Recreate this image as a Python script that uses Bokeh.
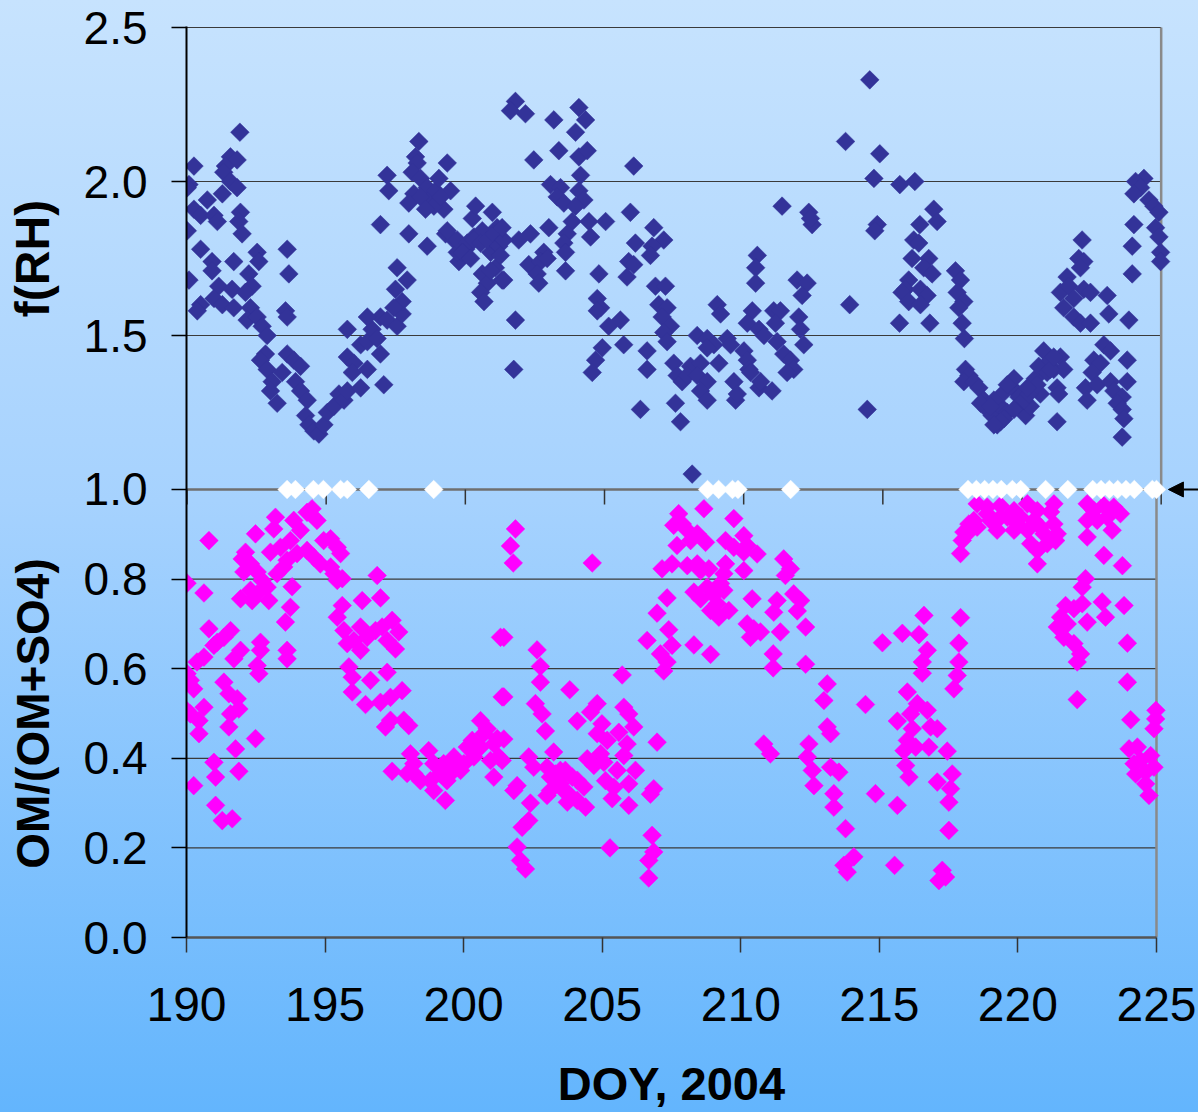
import math
from bokeh.plotting import figure
from bokeh.layouts import row, column
from bokeh.models import Range1d, FixedTicker, Label, Arrow, NormalHead
from bokeh.embed import file_html
from bokeh.resources import INLINE

# ---------------- data ----------------
FRH_DOY = [
    190.25, 190.07, 190.01, 191.90, 191.56, 191.80, 191.38, 191.32, 191.56, 191.80,
    191.27, 190.73, 190.25, 190.49, 190.97, 191.09, 190.01, 191.92, 191.86, 191.98,
    190.49, 190.90, 190.07, 190.90, 191.14, 191.68, 192.22, 192.52, 192.58, 192.34,
    191.62, 190.49, 190.37, 190.97, 191.27, 191.68, 192.10, 192.28, 192.16, 192.52,
    192.70, 192.88, 193.60, 193.66, 193.54, 193.60, 192.82, 192.64, 192.88, 193.06,
    193.00, 193.24, 193.60, 193.84, 194.08, 193.42, 193.90, 194.08, 194.32, 194.26,
    194.38, 194.56, 194.74, 194.92, 195.04, 195.28, 195.46, 195.64, 195.76, 195.76,
    195.76, 196.00, 195.94, 196.24, 196.48, 196.24, 196.48, 196.65, 196.95, 196.83,
    196.95, 196.48, 197.07, 197.19, 197.55, 197.73, 197.73, 197.49, 197.55, 197.91,
    197.43, 197.19, 197.25, 196.95, 197.97, 198.63, 198.33, 198.21, 198.27, 198.09,
    198.39, 198.15, 197.97, 198.63, 198.69, 198.93, 199.05, 199.23, 199.47, 199.35,
    199.29, 199.59, 199.77, 199.71, 200.01, 200.31, 200.25, 200.37, 200.61, 200.97,
    201.14, 201.26, 200.91, 201.08, 200.61, 200.79, 200.55, 200.67, 201.32, 199.35,
    199.71, 200.07, 200.31, 200.55, 199.89, 200.19, 200.79, 201.02, 201.20, 200.91,
    201.26, 198.39, 198.87, 199.11, 198.57,
    201.80, 201.62, 202.16, 203.18, 204.08, 204.32, 203.96, 203.36, 204.08, 204.38,
    202.46, 206.05, 204.14, 203.06, 203.42, 203.30, 203.54, 204.08, 204.26, 203.96,
    205.93, 203.84, 204.44, 205.04, 203.00, 202.34, 201.92, 201.38, 201.32, 203.66,
    204.50, 203.54, 203.60, 202.82, 202.28, 202.70, 202.94, 202.58, 202.64, 201.38,
    203.60, 204.80, 201.80, 201.74, 206.77, 207.13, 206.71, 206.65, 206.11, 205.87,
    206.05, 205.81, 206.83, 207.19, 204.74, 204.86, 204.74, 205.15, 205.57, 205.69,
    204.92, 204.68, 204.56, 206.53, 206.53, 206.29, 206.95, 207.25, 207.07, 207.37,
    207.13, 207.25, 207.49, 207.61, 207.79, 207.55, 207.73, 208.15, 208.33, 208.69,
    208.93, 209.05, 209.17, 209.41, 209.53, 208.69, 208.09, 207.97, 208.45, 208.33,
    208.69, 208.45, 208.69, 209.11, 209.65, 209.71, 209.77, 210.01, 210.13, 210.19,
    210.25, 210.55, 210.61, 211.02, 210.31, 210.13, 210.55, 210.73, 211.08, 211.32,
    211.14, 211.20, 211.44, 211.68, 211.80, 211.56, 211.98, 212.04, 212.16, 210.49,
    210.43, 210.43, 211.92, 212.28, 212.10, 211.38, 212.34, 212.46, 212.40,
    214.53, 213.66, 214.89, 214.68, 215.61, 216.15, 214.80, 214.71, 216.83, 216.95,
    216.33, 216.11, 216.29, 216.05, 216.65, 216.47, 216.77, 215.93, 215.81, 215.69,
    215.93, 216.35, 216.59, 216.35, 215.60, 216.69, 213.81, 214.44, 217.61, 217.79,
    217.67, 217.91, 217.73, 217.85, 217.93, 217.97, 218.09, 217.91, 218.27, 218.45,
    218.63, 218.75, 218.93, 219.11, 219.23, 219.29, 218.99, 219.47, 219.65, 219.71,
    219.89, 219.95, 220.13, 220.30, 220.42, 220.48, 220.60, 220.78, 220.90, 221.02,
    221.14, 221.38, 221.50, 221.26, 221.32, 221.26, 220.66, 219.47, 222.16, 222.04,
    222.22, 222.10, 221.62, 221.38, 221.68, 221.86, 222.22, 222.46, 221.50, 221.86,
    222.10, 222.46, 223.06, 223.12, 223.84, 222.94, 223.18, 222.58, 222.82, 222.52,
    222.28, 222.70, 222.34, 223.78, 223.78, 223.18, 223.30, 223.60, 223.42, 223.60,
    223.66, 223.60, 224.02, 223.96, 223.96, 224.38, 224.08, 224.26, 224.02, 224.56,
    224.74, 224.92, 224.80, 224.92, 224.98, 224.98,
    218.51, 218.87, 219.35, 219.71, 220.07, 220.25, 220.54, 221.02, 221.14, 220.19,
    219.23, 218.99,
]
FRH_VAL = [
    2.05, 1.99, 1.98, 2.16, 2.08, 2.07, 2.05, 2.03, 2.00, 1.98,
    1.96, 1.94, 1.91, 1.89, 1.89, 1.87, 1.84, 1.90, 1.87, 1.83,
    1.78, 1.74, 1.68, 1.71, 1.66, 1.74, 1.70, 1.77, 1.74, 1.66,
    1.65, 1.60, 1.58, 1.62, 1.60, 1.59, 1.64, 1.59, 1.55, 1.56,
    1.53, 1.50, 1.78, 1.70, 1.58, 1.56, 1.44, 1.42, 1.39, 1.35,
    1.32, 1.28, 1.44, 1.42, 1.40, 1.38, 1.35, 1.32, 1.29, 1.24,
    1.21, 1.19, 1.18, 1.21, 1.25, 1.27, 1.31, 1.29, 1.32, 1.52,
    1.43, 1.41, 1.38, 1.33, 1.39, 1.47, 1.48, 1.52, 1.56, 1.49,
    1.44, 1.56, 1.34, 1.55, 1.53, 1.57, 1.61, 1.65, 1.72, 1.68,
    1.59, 2.02, 1.97, 1.86, 1.83, 1.79, 2.13, 2.08, 2.06, 2.03,
    2.01, 1.96, 1.93, 1.98, 1.94, 1.97, 2.01, 1.91, 1.97, 2.06,
    1.83, 1.81, 1.74, 1.77, 1.78, 1.82, 1.88, 1.92, 1.84, 1.90,
    1.85, 1.81, 1.77, 1.72, 1.70, 1.67, 1.64, 1.61, 1.68, 1.84,
    1.81, 1.80, 1.81, 1.80, 1.77, 1.75, 1.81, 1.83, 1.79, 1.71,
    1.76, 1.95, 1.92, 1.95, 1.91,
    2.26, 2.23, 2.22, 2.20, 2.24, 2.20, 2.16, 2.10, 2.08, 2.10,
    2.07, 2.05, 2.02, 1.99, 1.98, 1.95, 1.93, 1.97, 1.94, 1.92,
    1.90, 1.87, 1.87, 1.87, 1.85, 1.83, 1.81, 1.81, 1.85, 1.83,
    1.82, 1.80, 1.77, 1.77, 1.73, 1.74, 1.75, 1.70, 1.67, 1.68,
    1.71, 1.70, 1.55, 1.39, 1.85, 1.81, 1.79, 1.76, 1.80, 1.74,
    1.73, 1.69, 1.66, 1.66, 1.62, 1.59, 1.58, 1.53, 1.55, 1.47,
    1.46, 1.42, 1.38, 1.45, 1.39, 1.26, 1.60, 1.59, 1.56, 1.53,
    1.51, 1.48, 1.41, 1.37, 1.35, 1.28, 1.22, 1.05, 1.50, 1.49,
    1.47, 1.60, 1.57, 1.49, 1.47, 1.46, 1.40, 1.37, 1.41, 1.37,
    1.35, 1.32, 1.29, 1.41, 1.35, 1.29, 1.31, 1.45, 1.42, 1.39,
    1.38, 1.33, 1.35, 1.32, 1.58, 1.54, 1.52, 1.50, 1.58, 1.58,
    1.54, 1.48, 1.44, 1.42, 1.39, 1.38, 1.56, 1.52, 1.47, 1.76,
    1.72, 1.67, 1.68, 1.67, 1.63, 1.92, 1.90, 1.86, 1.88,
    2.33, 2.13, 2.09, 2.01, 1.99, 2.00, 1.86, 1.84, 1.91, 1.87,
    1.86, 1.81, 1.80, 1.75, 1.75, 1.72, 1.70, 1.68, 1.65, 1.64,
    1.61, 1.65, 1.63, 1.60, 1.54, 1.54, 1.60, 1.26, 1.71, 1.68,
    1.64, 1.61, 1.59, 1.54, 1.49, 1.39, 1.37, 1.35, 1.35, 1.33,
    1.29, 1.26, 1.24, 1.21, 1.27, 1.31, 1.29, 1.25, 1.33, 1.36,
    1.30, 1.27, 1.24, 1.27, 1.33, 1.36, 1.40, 1.45, 1.38, 1.42,
    1.39, 1.43, 1.39, 1.33, 1.31, 1.22, 1.31, 1.34, 1.81, 1.75,
    1.74, 1.72, 1.69, 1.64, 1.66, 1.62, 1.65, 1.64, 1.59, 1.56,
    1.54, 1.54, 1.63, 1.57, 1.55, 1.47, 1.45, 1.42, 1.41, 1.38,
    1.33, 1.34, 1.29, 1.42, 1.35, 1.35, 1.32, 1.30, 1.28, 1.26,
    1.23, 1.17, 1.86, 1.79, 1.70, 2.01, 2.00, 1.98, 1.96, 1.94,
    1.92, 1.90, 1.85, 1.82, 1.77, 1.74,
    1.28, 1.27, 1.23, 1.26, 1.29, 1.31, 1.34, 1.39, 1.43, 1.33,
    1.22, 1.21,
]

OMF_DOY = [
    190.81, 190.02, 190.63, 192.49, 193.15, 193.21, 193.87, 194.35, 194.53, 194.71,
    194.11, 193.75, 193.39, 193.03, 192.13, 192.01, 192.31, 192.07, 192.55, 192.73,
    192.91, 193.27, 193.51, 193.63, 193.99, 194.35, 194.59, 194.83, 194.95, 195.20,
    195.44, 195.56, 195.20, 195.32, 195.44, 195.62, 192.31, 191.95, 192.37, 192.97,
    192.55, 193.81, 193.75, 193.57, 196.88, 196.34, 197.00, 195.62, 195.44, 195.68,
    196.04, 196.28, 196.52, 195.80, 196.28, 196.82, 197.06, 197.42, 197.66, 197.24,
    197.54, 201.33, 190.81, 191.59, 191.35, 191.11, 190.99, 191.95, 191.71, 192.67,
    192.67, 190.63, 190.38, 193.63, 193.63, 192.55, 192.61, 195.86, 195.98, 195.98,
    196.64, 197.24, 197.78, 197.36, 197.00, 196.46, 197.36, 197.18, 197.84, 198.02,
    201.39, 190.02, 190.14, 190.26, 190.00, 190.14, 190.63, 190.45, 190.45, 191.35,
    191.53, 191.83, 191.89, 191.59, 191.53, 192.49, 191.77, 190.99, 191.05, 191.89,
    190.26, 191.05, 191.29, 191.65, 197.42, 198.08, 198.20, 197.96, 198.44, 198.74,
    198.92, 198.80, 198.92, 199.28, 199.40, 199.34, 199.65, 199.89, 200.13, 200.31,
    200.61, 200.85, 201.21, 200.97, 201.27, 201.09,
    198.20, 199.16, 199.65, 200.01, 200.37, 200.61, 200.73, 201.09,
    201.87, 201.69, 201.79, 204.64, 201.45, 202.65, 202.77, 202.77, 201.45, 203.83,
    205.72, 202.59, 202.83, 202.95, 204.10, 204.58, 204.82, 205.78, 205.96, 206.14,
    204.99, 204.82, 205.18, 205.60, 205.90, 205.78, 206.98, 201.45, 201.39, 202.35,
    202.53, 203.25, 203.01, 203.31, 203.67, 203.92, 203.49, 203.13, 203.01, 203.80,
    204.10, 204.40, 203.74, 204.46, 204.70, 204.94, 205.06, 205.54, 205.12, 205.42,
    205.36, 205.96, 206.20, 205.96, 206.74, 206.86, 201.93, 201.81, 202.41, 202.35,
    202.11, 201.93, 202.05, 202.23, 205.28, 206.80, 206.86, 206.68, 206.68, 207.76,
    208.67, 209.75, 207.58, 207.89, 208.07, 207.70, 208.19, 208.43, 208.73, 209.45,
    209.75, 210.11, 210.23, 210.11, 210.59, 207.16, 207.52, 208.07, 208.43, 208.85,
    208.55, 209.45, 209.39, 210.11, 211.55, 211.79, 211.61, 207.34, 206.98, 208.31,
    208.55, 208.79, 209.03, 209.27, 209.15, 208.91, 209.21, 209.57, 209.39, 210.41,
    210.23, 210.47, 210.71, 210.35, 211.31, 211.19, 211.43, 211.91, 212.16, 212.04,
    212.34, 206.62, 207.40, 207.52, 207.10, 207.34, 207.22, 208.31, 208.91, 211.17,
    211.17, 212.34, 210.83, 211.07, 212.46, 212.40, 212.58, 212.64,
    203.37, 203.61, 204.10, 203.49, 203.13, 204.34,
    218.53, 218.89, 219.37, 219.86, 220.34, 220.70, 221.30, 221.18, 218.23, 218.05,
    217.99, 217.93, 218.41, 218.53, 219.01, 219.25, 219.62, 219.98, 220.34, 220.46,
    220.70, 220.70, 220.94, 221.30, 221.42, 221.36, 221.06, 222.50, 222.74, 223.10,
    223.46, 223.70, 222.50, 222.86, 223.22, 223.40, 222.50, 223.10, 223.77, 222.44,
    222.32, 222.32, 221.72, 222.02, 223.04, 223.16, 223.83, 221.54, 221.42, 221.78,
    222.50, 221.66, 222.02, 222.26, 222.14, 223.95, 223.95, 222.14, 216.61, 217.93,
    215.83, 216.43, 215.11, 216.73, 216.55, 216.55, 217.87, 217.87, 217.81, 217.69,
    216.01, 216.37, 216.73, 216.13, 215.65, 216.85, 217.09, 216.19, 216.01, 215.89,
    216.31, 216.79, 217.45, 214.50, 213.12, 213.00, 213.12, 213.24, 215.95, 216.07,
    217.09, 217.63, 217.57, 217.51, 217.51, 213.24, 213.54, 213.36, 213.36, 214.86,
    215.65, 213.78, 214.08, 213.72, 213.84, 215.55, 217.27, 217.15, 217.39, 224.98,
    224.97, 224.91, 224.07, 224.01, 224.31, 224.19, 224.43, 224.79, 224.91, 224.61,
    224.25, 224.61, 224.73,
    219.37, 220.10, 220.58, 220.82, 219.86, 218.89, 218.17,
]
OMF_VAL = [
    0.886, 0.791, 0.769, 0.901, 0.912, 0.938, 0.931, 0.949, 0.957, 0.931,
    0.909, 0.886, 0.871, 0.860, 0.860, 0.845, 0.834, 0.816, 0.816, 0.797,
    0.782, 0.812, 0.827, 0.842, 0.857, 0.864, 0.849, 0.834, 0.886, 0.890,
    0.871, 0.857, 0.827, 0.812, 0.797, 0.801, 0.775, 0.756, 0.752, 0.752,
    0.767, 0.783, 0.737, 0.704, 0.808, 0.752, 0.758, 0.741, 0.715, 0.685,
    0.663, 0.693, 0.670, 0.656, 0.641, 0.685, 0.693, 0.708, 0.682, 0.663,
    0.644, 0.670, 0.689, 0.685, 0.670, 0.659, 0.652, 0.641, 0.622, 0.659,
    0.641, 0.626, 0.615, 0.641, 0.622, 0.607, 0.589, 0.604, 0.581, 0.548,
    0.574, 0.592, 0.551, 0.536, 0.525, 0.520, 0.485, 0.470, 0.485, 0.473,
    0.537, 0.589, 0.574, 0.555, 0.507, 0.499, 0.514, 0.484, 0.455, 0.570,
    0.544, 0.533, 0.510, 0.499, 0.470, 0.444, 0.421, 0.391, 0.358, 0.371,
    0.339, 0.295, 0.261, 0.265, 0.371, 0.410, 0.388, 0.366, 0.350, 0.417,
    0.388, 0.350, 0.328, 0.388, 0.350, 0.306, 0.403, 0.373, 0.425, 0.440,
    0.484, 0.466, 0.444, 0.395, 0.403, 0.358,
    0.366, 0.366, 0.373, 0.388, 0.403, 0.425, 0.455, 0.432,
    0.912, 0.874, 0.836, 0.836, 0.670, 0.642, 0.605, 0.570, 0.537, 0.553,
    0.586, 0.522, 0.499, 0.461, 0.483, 0.503, 0.522, 0.514, 0.499, 0.470,
    0.477, 0.455, 0.440, 0.458, 0.432, 0.406, 0.436, 0.443, 0.395, 0.403,
    0.380, 0.414, 0.380, 0.365, 0.373, 0.358, 0.343, 0.328, 0.317, 0.320,
    0.306, 0.291, 0.302, 0.399, 0.384, 0.410, 0.391, 0.373, 0.350, 0.335,
    0.310, 0.343, 0.373, 0.295, 0.320, 0.332, 0.339, 0.328, 0.300, 0.261,
    0.246, 0.202, 0.172, 0.153, 0.200, 0.228, 0.191, 0.172, 0.133, 0.946,
    0.957, 0.935, 0.920, 0.923, 0.909, 0.875, 0.886, 0.901, 0.882, 0.886,
    0.871, 0.897, 0.875, 0.860, 0.856, 0.823, 0.834, 0.830, 0.834, 0.823,
    0.819, 0.834, 0.812, 0.819, 0.845, 0.823, 0.808, 0.758, 0.724, 0.771,
    0.756, 0.782, 0.764, 0.790, 0.745, 0.730, 0.715, 0.730, 0.775, 0.756,
    0.700, 0.689, 0.682, 0.670, 0.752, 0.726, 0.682, 0.767, 0.752, 0.729,
    0.693, 0.663, 0.687, 0.652, 0.633, 0.615, 0.595, 0.653, 0.632, 0.633,
    0.602, 0.610, 0.432, 0.410, 0.432, 0.403, 0.373, 0.339,
    0.351, 0.328, 0.351, 0.373, 0.358, 0.336,
    0.968, 0.961, 0.964, 0.953, 0.968, 0.953, 0.968, 0.950, 0.923, 0.905,
    0.886, 0.857, 0.931, 0.916, 0.931, 0.909, 0.938, 0.923, 0.909, 0.879,
    0.864, 0.834, 0.901, 0.923, 0.901, 0.886, 0.879, 0.968, 0.953, 0.964,
    0.961, 0.946, 0.931, 0.931, 0.938, 0.909, 0.894, 0.853, 0.830, 0.801,
    0.782, 0.745, 0.741, 0.734, 0.749, 0.715, 0.741, 0.715, 0.693, 0.700,
    0.704, 0.670, 0.656, 0.633, 0.615, 0.657, 0.570, 0.531, 0.719, 0.714,
    0.679, 0.676, 0.658, 0.641, 0.615, 0.590, 0.657, 0.615, 0.585, 0.555,
    0.548, 0.522, 0.507, 0.499, 0.483, 0.470, 0.466, 0.466, 0.440, 0.417,
    0.425, 0.425, 0.416, 0.520, 0.566, 0.529, 0.470, 0.455, 0.384, 0.358,
    0.347, 0.365, 0.332, 0.302, 0.239, 0.380, 0.369, 0.321, 0.291, 0.321,
    0.295, 0.243, 0.180, 0.161, 0.146, 0.161, 0.150, 0.127, 0.135, 0.507,
    0.488, 0.466, 0.486, 0.421, 0.425, 0.388, 0.395, 0.406, 0.380, 0.369,
    0.365, 0.343, 0.317,
    0.938, 0.938, 0.931, 0.916, 0.909, 0.946, 0.901,
]

# white markers sitting on the 1.0 line
FLAG_DOY = [193.63, 193.93, 194.58, 194.94, 195.56, 195.80, 196.58, 198.92,
            208.80, 209.20, 209.70, 209.90, 211.80,
            218.20, 218.50, 218.80, 219.10, 219.40, 219.80, 220.10, 221.00, 221.80,
            222.70, 223.00, 223.30, 223.60, 223.90, 224.20, 224.85, 225.00]
FLAG_LEVEL = 1.0

X_TICKS = [190, 195, 200, 205, 210, 215, 220, 225]
X_LABELS = ["190", "195", "200", "205", "210", "215", "220", "225"]
OMF_TICKS = [0.0, 0.2, 0.4, 0.6, 0.8, 1.0]
OMF_LABELS = ["0.0", "0.2", "0.4", "0.6", "0.8", "1.0"]
FRH_TICKS = [1.5, 2.0, 2.5]
FRH_LABELS = ["1.5", "2.0", "2.5"]
OMF_GRID = [0.2, 0.4, 0.6, 0.8]
FRH_GRID = [1.5, 2.0, 2.5]

# ---------------- layout / ranges ----------------
FONT = "Liberation Sans"
BLUE = "#333399"
PINK = "#ff00ff"
PAGE_H = 1112
MAIN_H = 1055                     # height of the plotting row; the x title strip fills the rest
GRAD = "linear-gradient(to bottom, #c7e3fe 0%, #a6d2fe 45%, #63b5fd 100%)"


def bg(offset):
    # one continuous page gradient, shifted for each piece of the layout
    return {"background": f"{GRAD} 0px {-offset}px / 100% {PAGE_H}px no-repeat"}


omf_range = Range1d(0, 2.03348)            # lower panel: 0..1 in the bottom part of the frame
frh_range = Range1d(-0.454545, 2.503247)   # upper panel: 1..2.5 in the top part of the frame
xbot = Range1d(190, 226.516)
xtop = Range1d(189.982, 226.341)

W_TITLE = 80
p = figure(width=1198 - W_TITLE, height=MAIN_H, output_backend="svg", toolbar_location=None, tools="",
           x_range=xbot, y_range=omf_range,
           min_border_left=106, min_border_right=0, min_border_top=26, min_border_bottom=MAIN_H - 937,
           background_fill_color=None, border_fill_color=None, outline_line_color=None)
p.extra_x_ranges = {"xtop": xtop}
p.extra_y_ranges = {"frh": frh_range}
p.styles = bg(0)
p.xgrid.visible = False
p.ygrid.visible = False

# upper-panel tick values placed on the shared left axis
ratio = (omf_range.end - omf_range.start) / (frh_range.end - frh_range.start)
frh_pos = [omf_range.start + (v - frh_range.start) * ratio for v in FRH_TICKS]
yt = OMF_TICKS + frh_pos
overrides = {t: l for t, l in zip(OMF_TICKS, OMF_LABELS)}
overrides.update({t: l for t, l in zip(frh_pos, FRH_LABELS)})

yax = p.yaxis[0]
yax.ticker = FixedTicker(ticks=yt)
yax.major_label_overrides = overrides
yax.major_label_text_font = FONT
yax.major_label_text_font_size = "46px"
yax.major_label_text_color = "black"
yax.major_label_standoff = 24
yax.major_tick_out = 15
yax.major_tick_in = 0
yax.minor_tick_out = 0
yax.minor_tick_in = 0
yax.major_tick_line_color = "black"
yax.major_tick_line_width = 1.5
yax.axis_line_color = "black"
yax.axis_line_width = 2

xax = p.xaxis[0]
xax.ticker = FixedTicker(ticks=X_TICKS)
xax.bounds = (190, 225)
xax.major_label_overrides = {t: l for t, l in zip(X_TICKS, X_LABELS)}
xax.major_label_text_font = FONT
xax.major_label_text_font_size = "48px"
xax.major_label_text_color = "black"
xax.major_label_standoff = 35
xax.major_tick_out = 15
xax.major_tick_in = 0
xax.minor_tick_out = 0
xax.minor_tick_in = 0
xax.major_tick_line_color = "#333333"
xax.major_tick_line_width = 1.5
xax.axis_line_color = "#555555"
xax.axis_line_width = 2.5

# horizontal grid lines of both panels
p.segment(x0=190, y0=FRH_GRID, x1=225, y1=FRH_GRID, x_range_name="xtop", y_range_name="frh",
          line_color="#3a3a3a", line_width=1.2)
p.segment(x0=190, y0=OMF_GRID, x1=225, y1=OMF_GRID, line_color="#3a3a3a", line_width=1.2)
# right borders of the two panels
p.segment(x0=[225], y0=[1.0], x1=[225], y1=[2.5], x_range_name="xtop", y_range_name="frh",
          line_color="#8a8a8a", line_width=2.5)
p.segment(x0=[225], y0=[0.0], x1=[225], y1=[1.0], line_color="#8a8a8a", line_width=2.5)
# upper panel's own x axis on the 1.0 line, ticks pointing down
p.segment(x0=[190], y0=[1.0], x1=[225], y1=[1.0], x_range_name="xtop",
          line_color="#6f6f6f", line_width=2.5)
p.segment(x0=X_TICKS, y0=1.0, x1=X_TICKS, y1=1.0 - 15 / 448, x_range_name="xtop",
          line_color="#333333", line_width=1.5)

# data
p.scatter(FRH_DOY, FRH_VAL, marker="square", size=13.2, angle=math.pi / 4,
          fill_color=BLUE, line_color=BLUE, line_width=0.5,
          x_range_name="xtop", y_range_name="frh")
p.scatter(OMF_DOY, OMF_VAL, marker="square", size=13.2, angle=math.pi / 4,
          fill_color=PINK, line_color=PINK, line_width=0.5)
p.scatter(FLAG_DOY, FLAG_LEVEL, marker="square", size=13.2, angle=math.pi / 4,
          fill_color="white", line_color="white", line_width=0.5)

# pointer arrow at the right end of the 1.0 line
p.add_layout(Arrow(end=NormalHead(size=15, fill_color="black", line_color="black"),
                   x_start=226.5, y_start=1.0, x_end=225.43, y_end=1.0,
                   line_color="black", line_width=2))

# strip on the left holding the two y titles, sharing the vertical ranges
t = figure(width=W_TITLE, height=MAIN_H, output_backend="svg", toolbar_location=None, tools="",
           x_range=Range1d(0, W_TITLE), y_range=omf_range,
           x_axis_type=None, y_axis_type=None,
           min_border_left=0, min_border_right=0, min_border_top=26, min_border_bottom=MAIN_H - 937,
           background_fill_color=None, border_fill_color=None, outline_line_color=None)
t.extra_y_ranges = {"frh": frh_range}
t.styles = bg(0)
t.xgrid.visible = False
t.ygrid.visible = False
t.add_layout(Label(x=32, y=(1.0 + 2.5) / 2, y_range_name="frh", text="f(RH)",
                   angle=math.pi / 2, text_align="center", text_baseline="middle",
                   text_font=FONT, text_font_size="48px", text_font_style="bold",
                   text_color="black"))
t.add_layout(Label(x=32, y=0.5, text="OM/(OM+SO4)",
                   angle=math.pi / 2, text_align="center", text_baseline="middle",
                   text_font=FONT, text_font_size="46px", text_font_style="bold",
                   text_color="black"))

# strip at the bottom holding the x title, centred under the 190..225 span
b_h = PAGE_H - MAIN_H
b = figure(width=1198, height=b_h, output_backend="svg", toolbar_location=None, tools="",
           x_range=xbot, y_range=Range1d(0, b_h),
           x_axis_type=None, y_axis_type=None,
           min_border_left=186, min_border_right=0, min_border_top=0, min_border_bottom=0,
           background_fill_color=None, border_fill_color=None, outline_line_color=None)
b.styles = bg(MAIN_H)
b.xgrid.visible = False
b.ygrid.visible = False
b.add_layout(Label(x=(X_TICKS[0] + X_TICKS[-1]) / 2, y=29, text="DOY, 2004",
                   text_align="center", text_baseline="middle",
                   text_font=FONT, text_font_size="47px", text_font_style="bold",
                   text_color="black"))

layout = column(row(t, p, spacing=0), b, spacing=0)
open("out.html", "w").write(file_html(layout, INLINE))
